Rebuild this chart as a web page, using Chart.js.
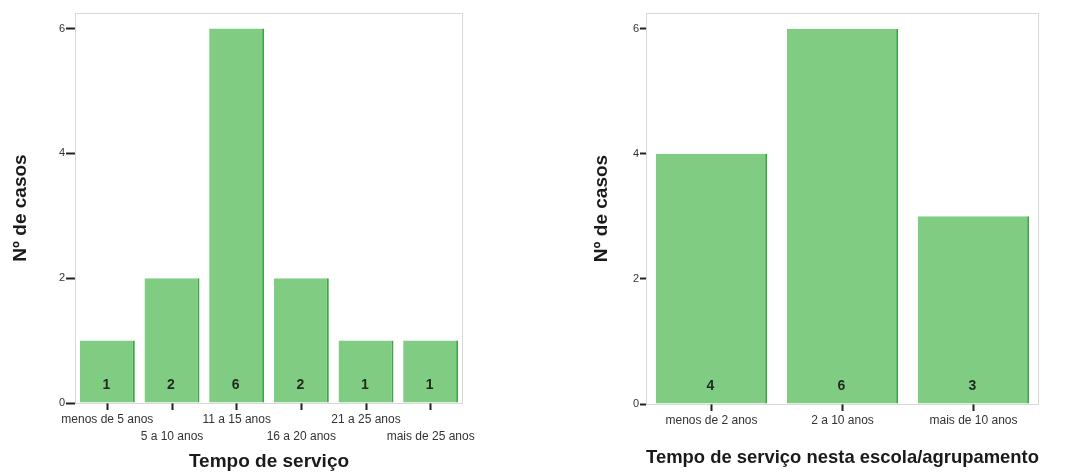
<!DOCTYPE html>
<html>
<head>
<meta charset="utf-8">
<script src="https://cdn.jsdelivr.net/npm/chart.js@4"></script>
<style>
  body { margin: 0; background: #fff; }
  .box { position: absolute; top: 0; height: 473px; }
</style>
</head>
<body>
<div class="box" style="left:0;width:480px"><canvas id="chartServico" width="480" height="473"></canvas></div>
<div class="box" style="left:570px;width:497px"><canvas id="chartEscola" width="497" height="473"></canvas></div>
<script>
// Tempo de serviço
const servicoLabels = [
  ['menos de 5 anos', ''],
  ['', '5 a 10 anos'],
  ['11 a 15 anos', ''],
  ['', '16 a 20 anos'],
  ['21 a 25 anos', ''],
  ['', 'mais de 25 anos']
];
const servicoCasos = [1, 2, 6, 2, 1, 1];

// Tempo de serviço nesta escola/agrupamento
const escolaLabels = ['menos de 2 anos', '2 a 10 anos', 'mais de 10 anos'];
const escolaCasos = [4, 6, 3];

const yTicks = [0, 2, 4, 6];

const fontFamily = '"Liberation Sans", Arial, Helvetica, sans-serif';

// dotted frame round the plot + counts near the bottom of each bar
const framePlugin = {
  id: 'frameAndCounts',
  beforeDatasetsDraw(chart) {
    const { ctx, chartArea: a } = chart;
    ctx.save();
    ctx.strokeStyle = '#b0b0b0';
    ctx.lineWidth = 1;
    ctx.setLineDash([1, 1]);
    ctx.strokeRect(a.left + 0.5, a.top + 0.5, a.right - a.left - 1, a.bottom - a.top);
    ctx.restore();
  },
  afterDatasetsDraw(chart) {
    const { ctx } = chart;
    const meta = chart.getDatasetMeta(0);
    const y0 = chart.scales.y.getPixelForValue(0);
    ctx.save();
    ctx.fillStyle = '#1f2a1f';
    ctx.font = 'bold 14px ' + fontFamily;
    ctx.textAlign = 'center';
    ctx.textBaseline = 'middle';
    meta.data.forEach((bar, i) => {
      ctx.fillText(chart.data.datasets[0].data[i], bar.x - 1, y0 - 18);
    });
    ctx.restore();
  }
};

function makeChart(id, labels, values, opts) {
  return new Chart(document.getElementById(id), {
    type: 'bar',
    data: {
      labels: labels,
      datasets: [{
        data: values,
        backgroundColor: '#80cc83',
        borderColor: '#3aa542',
        borderWidth: { top: 0, left: 0, bottom: 0, right: 2 },
        borderSkipped: false,
        barPercentage: 0.85,
        categoryPercentage: 1.0
      }]
    },
    options: {
      responsive: false,
      animation: false,
      events: [],
      layout: { padding: { top: 13, right: opts.padRight, left: 0, bottom: 0 } },
      plugins: { legend: { display: false }, tooltip: { enabled: false } },
      scales: {
        x: {
          offset: true,
          border: { display: false },
          grid: {
            offset: false,
            drawOnChartArea: false,
            tickLength: 7,
            tickWidth: 2,
            tickColor: '#222'
          },
          ticks: {
            autoSkip: false,
            maxRotation: 0,
            padding: 1,
            color: '#333',
            font: { family: fontFamily, size: 12, lineHeight: 1.4 }
          },
          title: {
            display: true,
            text: opts.xTitle,
            color: '#1a1a1a',
            font: { family: fontFamily, size: 19, weight: 'bold' },
            padding: { top: 0, bottom: opts.xTitlePad }
          },
          afterFit(scale) { scale.height = opts.xHeight; }
        },
        y: {
          min: 0,
          max: 6.25,
          border: { display: false },
          afterBuildTicks(scale) { scale.ticks = yTicks.map(v => ({ value: v })); },
          grid: {
            drawOnChartArea: false,
            tickLength: opts.yTickLen,
            tickWidth: 2,
            tickColor: '#222'
          },
          ticks: {
            padding: 1,
            color: '#333',
            font: { family: fontFamily, size: 11 }
          },
          title: {
            display: true,
            text: 'Nº de casos',
            color: '#1a1a1a',
            font: { family: fontFamily, size: 19, weight: 'bold' },
            padding: { top: opts.yTitlePad, bottom: 0 }
          },
          afterFit(scale) { scale.width = opts.yWidth; }
        }
      }
    },
    plugins: [framePlugin]
  });
}

makeChart('chartServico', servicoLabels, servicoCasos, {
  padRight: 17, yWidth: 75, yTickLen: 9, xHeight: 70,
  xTitle: 'Tempo de serviço', xTitlePad: 0, yTitlePad: 9
});
makeChart('chartEscola', escolaLabels, escolaCasos, {
  padRight: 28, yWidth: 76, yTickLen: 6, xHeight: 69,
  xTitle: 'Tempo de serviço nesta escola/agrupamento', xTitlePad: 4, yTitlePad: 20
});
</script>
</body>
</html>
